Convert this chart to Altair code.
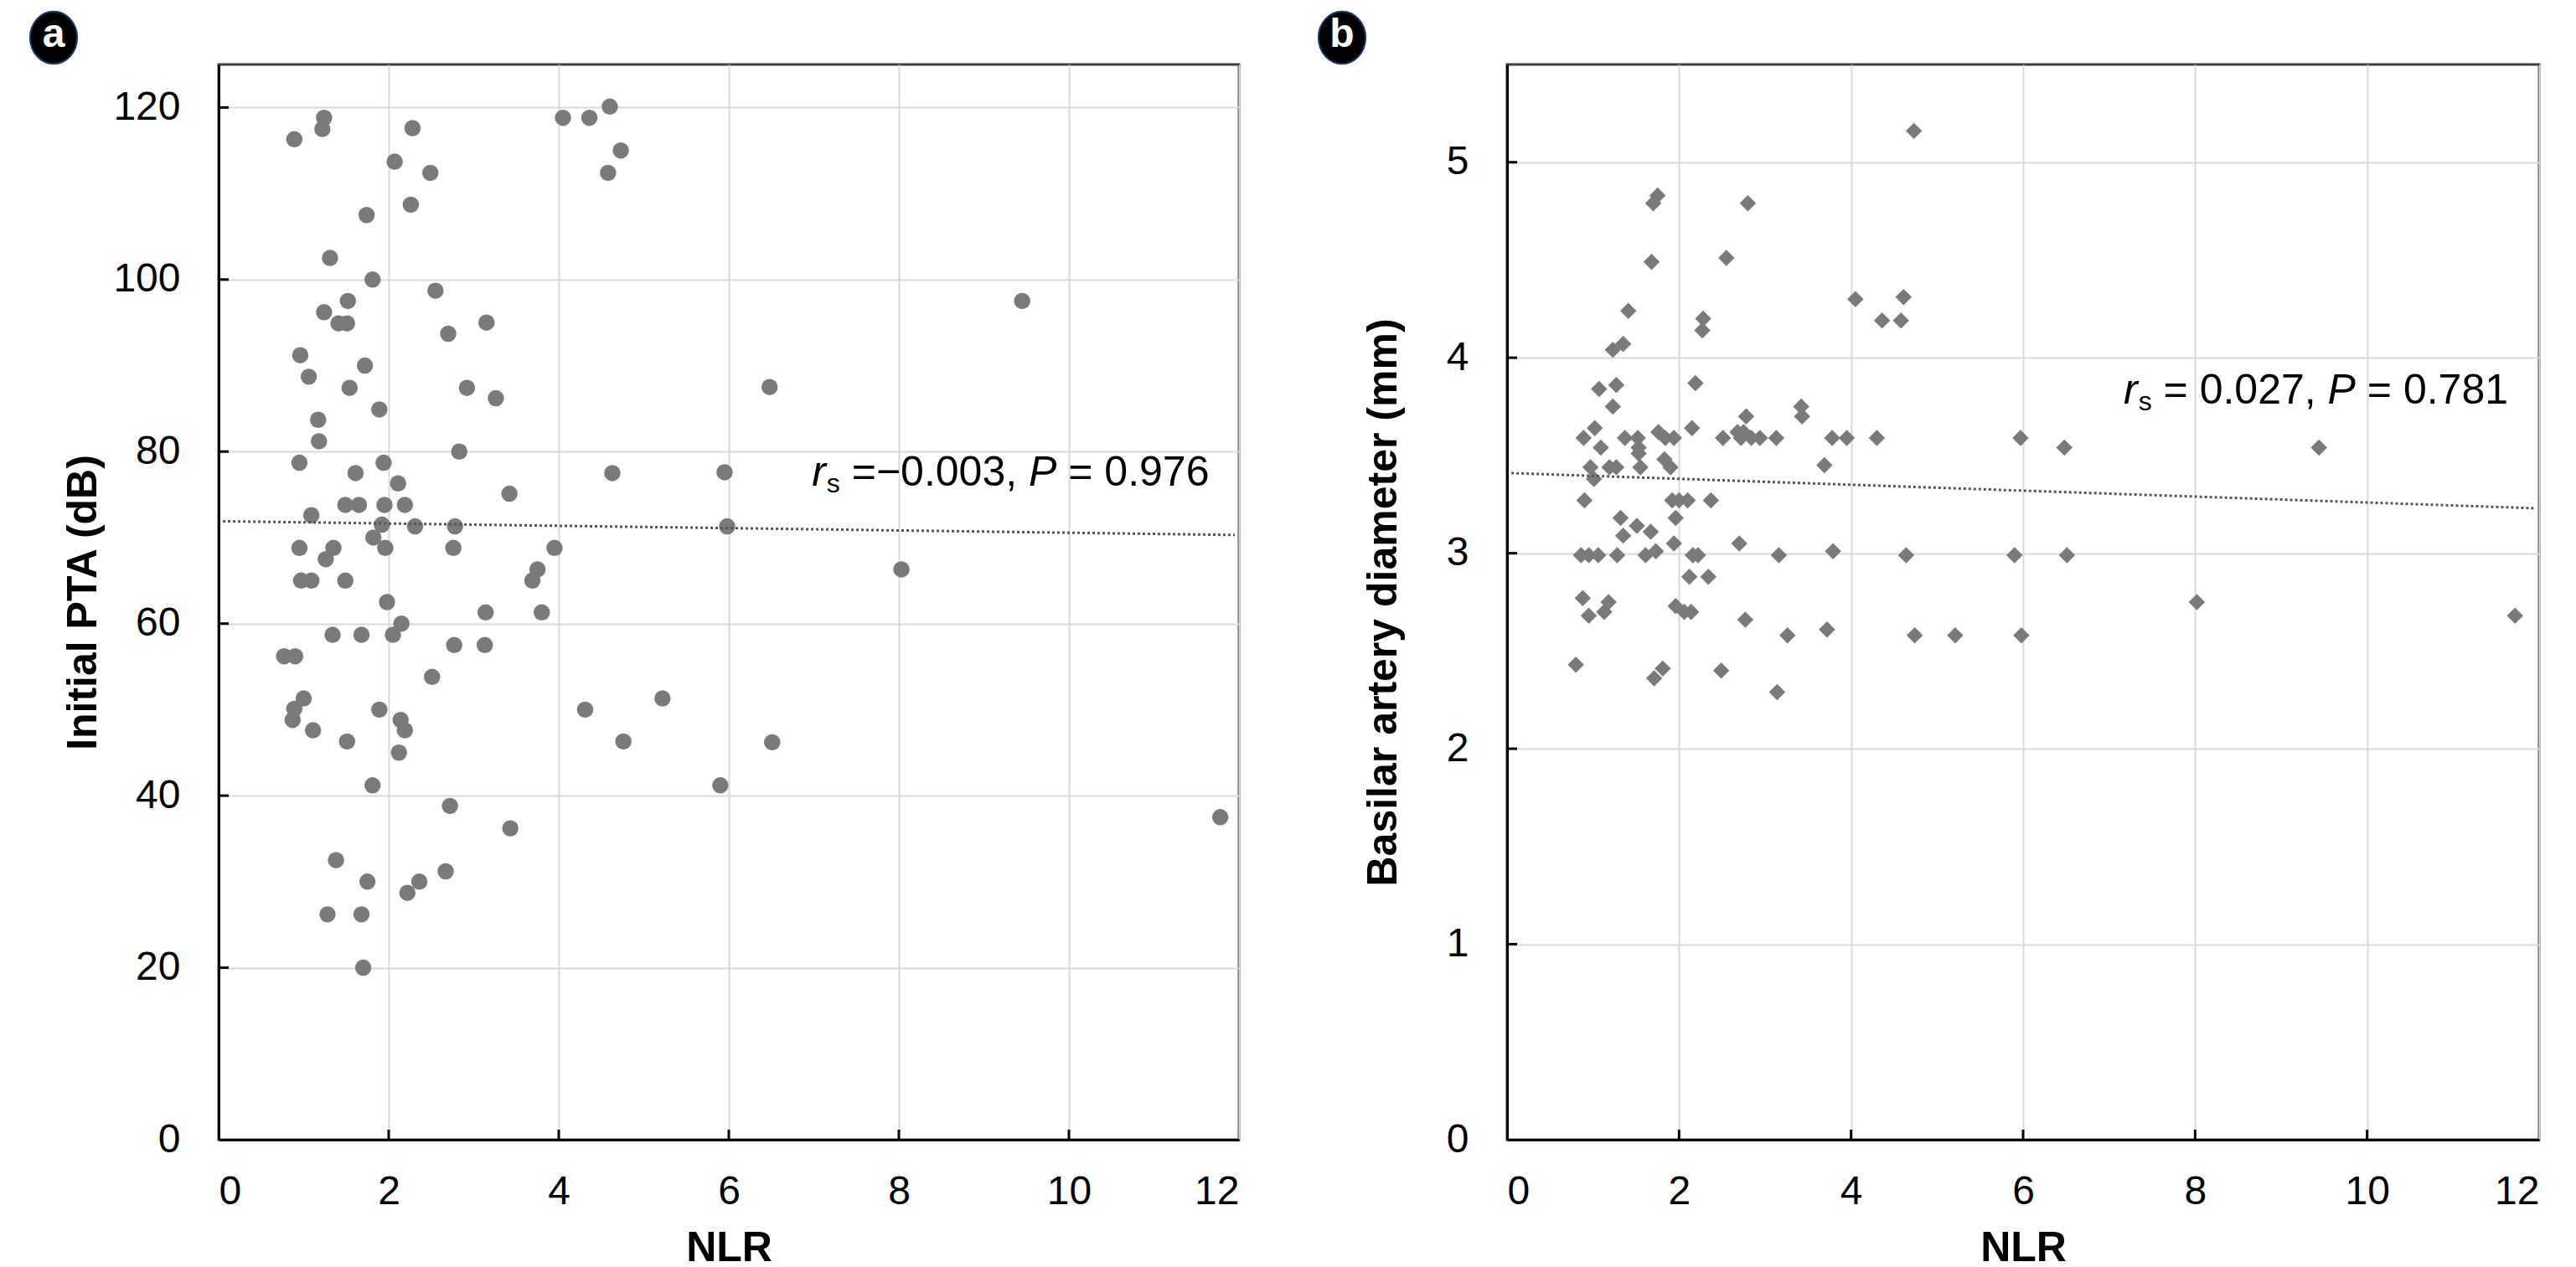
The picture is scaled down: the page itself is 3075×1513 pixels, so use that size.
import altair as alt
import pandas as pd

# ---------------- data ----------------
nlr_a = [0.89, 1.24, 1.22, 2.28, 2.07, 2.49, 2.26, 1.74, 1.31, 1.81, 2.55, 1.52, 1.24, 1.41, 1.51,
         3.15, 2.70, 0.96, 1.72, 1.06, 1.54, 2.92, 3.26, 1.89, 1.17, 1.18, 2.83, 0.95, 1.94, 4.05,
         4.36, 4.60, 4.73, 4.58, 4.63, 1.61, 2.11, 3.42, 1.49, 1.65, 1.95, 2.19, 1.09, 1.92, 2.31,
         2.78, 1.82, 0.95, 1.35, 1.96, 2.76, 3.95, 1.26, 3.75, 3.69, 0.97, 1.09, 1.49, 1.98, 3.14,
         3.80, 2.15, 1.34, 1.68, 2.05, 2.77, 3.13, 0.77, 0.90, 2.51, 1.00, 0.89, 0.87, 1.11, 1.89,
         2.14, 2.19, 1.51, 2.12, 1.81, 4.31, 5.22, 4.76, 2.72, 3.43, 1.38, 2.67, 1.75, 2.36, 2.22,
         1.28, 1.68, 1.70, 9.45, 6.48, 5.95, 5.98, 8.03, 6.51, 5.90, 11.78]
pta_a = [116.3, 118.8, 117.5, 117.6, 113.7, 112.4, 108.7, 107.5, 102.5, 100.0, 98.7, 97.5, 96.2, 94.9, 94.9,
         95.0, 93.7, 91.2, 90.0, 88.7, 87.4, 87.4, 86.2, 84.9, 83.7, 81.2, 80.0, 78.7, 78.7, 118.8,
         118.8, 120.1, 115.0, 112.4, 77.5, 77.5, 76.3, 75.1, 73.8, 73.8, 73.8, 73.8, 72.6, 71.5, 71.3,
         71.3, 70.0, 68.8, 68.8, 68.8, 68.8, 68.8, 67.5, 66.3, 65.0, 65.0, 65.0, 65.0, 62.5, 61.3,
         61.3, 60.0, 58.7, 58.7, 58.7, 57.5, 57.5, 56.2, 56.2, 53.8, 51.3, 50.1, 48.8, 47.6, 50.0,
         48.8, 47.6, 46.3, 45.0, 41.2, 50.0, 51.3, 46.3, 38.8, 36.2, 32.5, 31.2, 30.0, 30.0, 28.7,
         26.2, 26.2, 20.0, 97.5, 87.5, 77.6, 71.3, 66.3, 46.2, 41.2, 37.5]

nlr_b = [4.73, 1.75, 1.70, 2.80, 1.68, 2.55, 4.05, 4.61, 4.36, 4.58, 1.41, 2.28, 2.27, 1.35, 1.23,
         1.07, 1.27, 2.19, 1.23, 3.42, 3.43, 2.78, 1.02, 0.89, 1.09, 1.37, 1.52, 1.53, 1.53, 1.76,
         1.84, 1.94, 2.15, 2.51, 2.68, 2.75, 2.72, 2.84, 2.94, 3.13, 3.78, 3.95, 4.30, 3.69, 0.97,
         1.01, 1.19, 1.27, 1.55, 1.83, 1.90, 0.90, 1.92, 2.00, 2.10, 2.37, 1.32, 1.51, 1.67, 1.96,
         1.35, 1.94, 2.70, 0.86, 0.95, 1.06, 1.28, 1.61, 1.73, 2.16, 2.22, 3.16, 3.79, 4.64, 2.12,
         2.34, 0.88, 1.18, 1.13, 0.95, 1.96, 2.06, 2.14, 2.77, 3.26, 3.72, 4.74, 5.21, 0.80, 1.81,
         1.71, 2.49, 3.14, 5.97, 6.48, 9.44, 5.90, 6.51, 8.02, 5.98, 11.72]
bad_b = [5.16, 4.83, 4.79, 4.79, 4.49, 4.51, 4.30, 4.31, 4.19, 4.19, 4.24, 4.20, 4.14, 4.07, 4.04,
         3.84, 3.86, 3.87, 3.75, 3.75, 3.70, 3.70, 3.64, 3.59, 3.54, 3.59, 3.59, 3.54, 3.51, 3.62,
         3.59, 3.59, 3.64, 3.59, 3.62, 3.62, 3.59, 3.59, 3.59, 3.59, 3.59, 3.59, 3.59, 3.45, 3.44,
         3.38, 3.44, 3.44, 3.44, 3.48, 3.44, 3.27, 3.27, 3.27, 3.27, 3.27, 3.18, 3.14, 3.11, 3.18,
         3.09, 3.05, 3.05, 2.99, 2.99, 2.99, 2.99, 2.99, 3.01, 2.99, 2.99, 2.99, 3.01, 2.99, 2.88,
         2.88, 2.77, 2.75, 2.70, 2.68, 2.73, 2.70, 2.70, 2.66, 2.58, 2.61, 2.58, 2.58, 2.43, 2.41,
         2.36, 2.40, 2.29, 3.59, 3.54, 3.54, 2.99, 2.99, 2.75, 2.58, 2.68]

# trend lines (end points)
trend_a_x = [0.05, 11.95]
trend_a_y = [71.9, 70.3]
trend_b_x = [0.05, 11.95]
trend_b_y = [3.41, 3.23]

x_ticks = [0, 2, 4, 6, 8, 10, 12]
y_ticks_a = [0, 20, 40, 60, 80, 100, 120]
y_ticks_b = [0, 1, 2, 3, 4, 5]

# annotation anchors (right end of the text, data coords) and its text pieces
ann_a = {"x": 11.65, "y": 77.5, "rho": "=\u22120.003,", "p": "= 0.976"}
ann_b = {"x": 11.64, "y": 3.83, "rho": "= 0.027,", "p": "= 0.781"}

# ---------------- styling ----------------
FONT = "Liberation Sans, Arial, sans-serif"
PT_COLOR = "#7a7a7a"
W_A, W_B, H = 1218, 1232, 1284
TICK_LEN = 12


def text_width(s, size):
    w = {" ": .278, "=": .584, "\u2212": .584, ",": .278, ".": .278, "P": .667, "r": .333, "s": .5}
    return sum(w.get(c, .556) for c in s) * size


def panel(xv, yv, ydom, yticks, ytitle, shape, size, tx, ty, ann, letter, width, title_pad):
    pts = pd.DataFrame({"x": xv, "y": yv})
    xs = alt.Scale(domain=[0, 12], nice=False, zero=False)
    ys = alt.Scale(domain=ydom, nice=False, zero=False)

    points = alt.Chart(pts).mark_point(
        shape=shape, filled=True, size=size, color=PT_COLOR, opacity=1
    ).encode(
        x=alt.X("x:Q", scale=xs, title="NLR",
                axis=alt.Axis(values=x_ticks, format="d", labelPadding=38, titlePadding=18)),
        y=alt.Y("y:Q", scale=ys, title=ytitle,
                axis=alt.Axis(values=yticks, format="d", labelPadding=46, titlePadding=title_pad)),
    )

    trend = alt.Chart(pd.DataFrame({"x": tx, "y": ty})).mark_line(
        color="#555555", strokeWidth=3, strokeDash=[3, 3]
    ).encode(x=alt.X("x:Q", scale=xs), y=alt.Y("y:Q", scale=ys))

    yt = alt.Chart(pd.DataFrame({"v": yticks[1:]})).mark_rule(color="#000000", strokeWidth=3).encode(
        y=alt.Y("v:Q", scale=ys), x=alt.value(0), x2=alt.value(TICK_LEN))
    xt = alt.Chart(pd.DataFrame({"v": x_ticks[1:-1]})).mark_rule(color="#000000", strokeWidth=3).encode(
        x=alt.X("v:Q", scale=xs), y=alt.value(H), y2=alt.value(H - TICK_LEN))

    # annotation split into styled pieces (no leading/trailing blanks), right aligned at the anchor
    adf = pd.DataFrame({"x": [ann["x"]], "y": [ann["y"]]})
    S, SUB = 50, 32
    sp = text_width(" ", S)
    off = 0.0
    pieces = [(ann["p"], 0.0, 0, "normal", S)]
    off += text_width(ann["p"], S) + sp
    pieces.append(("P", -off, 0, "italic", S))
    off += text_width("P", S) + sp
    pieces.append((ann["rho"], -off, 0, "normal", S))
    off += text_width(ann["rho"], S) + sp
    pieces.append(("s", -off, 13, "normal", SUB))
    off += text_width("s", SUB) + 1
    pieces.append(("r", -off, 0, "italic", S))

    texts = []
    for txt, dx, dy, style, fs in pieces:
        texts.append(alt.Chart(adf).mark_text(
            text=txt, align="right", baseline="middle", dx=dx, dy=dy, fontSize=fs,
            fontStyle=style, font=FONT, color="#000000"
        ).encode(x=alt.X("x:Q", scale=xs), y=alt.Y("y:Q", scale=ys)))

    lab = pd.DataFrame({"t": [letter]})
    badge = alt.Chart(lab).mark_point(
        shape="M-0.9,0A0.9,1,0,1,0,0.9,0A0.9,1,0,1,0,-0.9,0Z", filled=True, size=3900,
        fill="#000000", stroke="#1f3a70", strokeWidth=2, opacity=1
    ).encode(x=alt.value(-197), y=alt.value(-32))
    badge_t = alt.Chart(lab).mark_text(
        fontSize=48, fontWeight="bold", font=FONT, color="#ffffff", baseline="middle", align="center", dy=-3
    ).encode(x=alt.value(-197), y=alt.value(-32), text="t:N")

    return alt.layer(points, trend, yt, xt, *texts, badge, badge_t).properties(width=width, height=H)


pa = panel(nlr_a, pta_a, [0, 125], y_ticks_a, "Initial PTA (dB)", "circle", 380,
           trend_a_x, trend_a_y, ann_a, "a", W_A, 10)
pb = panel(nlr_b, bad_b, [0, 5.5], y_ticks_b, "Basilar artery diameter (mm)", "diamond", 380,
           trend_b_x, trend_b_y, ann_b, "b", W_B, 50)

chart = alt.hconcat(pa, pb, spacing=320, bounds="flush").properties(
    padding={"left": 22, "top": 0, "right": 5, "bottom": 5}
).configure_view(
    stroke="#3f3f3f", strokeWidth=3
).configure_axis(
    labelFont=FONT, titleFont=FONT, labelFontSize=48, titleFontSize=50, titleFontWeight="bold",
    labelColor="#000000", titleColor="#000000", gridColor="#d9d9d9", gridWidth=2,
    domainColor="#000000", domainWidth=3, ticks=False, tickSize=0, grid=True
)

chart.save("out.html", embed_options={"renderer": "svg", "actions": False})
